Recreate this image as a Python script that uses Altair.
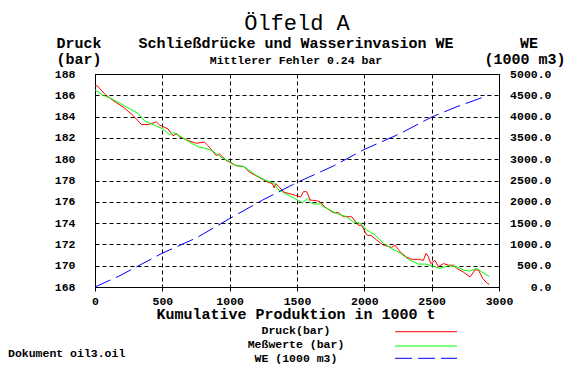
import altair as alt
import pandas as pd

# ---- data ----
druck_x = [0, 17, 74, 135, 209, 283, 345, 394, 456, 480, 542, 579, 608, 628, 690, 751, 813, 837,
           899, 924, 973, 1047, 1108, 1145, 1232, 1281, 1318, 1330, 1342, 1367, 1404, 1490, 1527,
           1547, 1572, 1597, 1646, 1671, 1708, 1770, 1807, 1844, 1906, 1955, 1980, 2017, 2054,
           2092, 2141, 2203, 2228, 2265, 2314, 2351, 2401, 2438, 2458, 2475, 2493, 2525, 2549,
           2587, 2624, 2661, 2686, 2735, 2785, 2822, 2847, 2879, 2908, 2928]
druck_p = [186.9, 186.9, 186.1, 185.5, 184.9, 184.1, 183.25, 183.25, 183.5, 183.2, 182.85, 182.2,
           182.4, 182.1, 181.75, 181.5, 181.6, 181.3, 180.35, 180.5, 179.9, 179.4, 179.3, 178.8,
           178.2, 177.85, 177.7, 177.3, 177.7, 177.4, 176.9, 176.6, 176.45, 176.95, 176.95,
           176.17, 176.1, 176.0, 175.5, 174.98, 174.98, 174.6, 174.6, 173.8, 173.8, 172.9, 172.8,
           172.4, 171.94, 171.72, 171.94, 171.3, 170.8, 170.6, 170.6, 170.5, 171.16, 170.85,
           170.2, 170.5, 169.9, 170.2, 170.05, 170.05, 169.75, 169.4, 168.95, 169.6, 169.6,
           168.8, 168.4, 168.25]

mess_x = [0, 62, 135, 234, 320, 369, 431, 505, 554, 579, 628, 702, 776, 813, 850, 874, 948, 998,
          1047, 1108, 1194, 1268, 1330, 1355, 1416, 1515, 1539, 1576, 1613, 1675, 1700, 1720,
          1795, 1869, 1918, 1968, 2017, 2079, 2141, 2203, 2265, 2327, 2401, 2451, 2500, 2562,
          2624, 2686, 2735, 2785, 2834, 2884, 2928]
mess_p = [186.5, 186.0, 185.6, 184.9, 184.3, 183.6, 183.25, 182.85, 182.3, 182.5, 182.2, 181.6,
          181.1, 181.05, 180.9, 180.75, 180.1, 179.8, 179.4, 179.3, 178.5, 178.0, 177.75, 177.2,
          176.75, 176.1, 175.9, 176.3, 175.8, 175.8, 175.5, 175.4, 174.9, 174.6, 174.1, 174.0,
          173.35, 172.9, 172.1, 171.6, 171.2, 170.6, 170.15, 170.15, 170.0, 169.75, 170.0,
          169.9, 169.6, 169.5, 169.75, 169.3, 169.0]

we_x = [0, 185, 497, 751, 1002, 1244, 1495, 1700, 1770, 2000, 2265, 2500, 2686, 2921]
we_v = [0, 266, 790, 1150, 1610, 2040, 2445, 2740, 2840, 3230, 3600, 3990, 4230, 4500]

x_ticks = [0, 500, 1000, 1500, 2000, 2500, 3000]
p_ticks = list(range(168, 189, 2))
we_ticks = list(range(0, 5001, 500))

FONT = "Liberation Mono"

df_druck = pd.DataFrame({"x": druck_x, "p": druck_p})
df_mess = pd.DataFrame({"x": mess_x, "p": mess_p})
df_we = pd.DataFrame({"x": we_x, "we": we_v})

x_enc = alt.X("x:Q", scale=alt.Scale(domain=[0, 3000], nice=False, zero=False),
              axis=alt.Axis(values=x_ticks, format="d", title=None, grid=True,
                            gridDash=[4, 3], gridColor="black", gridOpacity=1,
                            domainColor="black", tickColor="black", tickSize=4,
                            labelFont=FONT, labelFontWeight="bold", labelFontSize=11.5,
                            labelColor="black", labelPadding=4, labelFlush=False))

p_axis = alt.Axis(values=p_ticks, format="d", title=None, grid=True, gridDash=[4, 3],
                  gridColor="black", gridOpacity=1, domainColor="black", ticks=False,
                  tickSize=0, labelFont=FONT, labelFontWeight="bold", labelFontSize=11.5,
                  labelColor="black", labelPadding=20, labelAlign="right",
                  labelBaseline="middle", labelFlush=False)
p_scale = alt.Scale(domain=[168, 188], nice=False, zero=False)

red = alt.Chart(df_druck).mark_line(color="#ff0000", strokeWidth=1).encode(
    x=x_enc, y=alt.Y("p:Q", scale=p_scale, axis=p_axis))
green = alt.Chart(df_mess).mark_line(color="#00ff00", strokeWidth=1).encode(
    x=x_enc, y=alt.Y("p:Q", scale=p_scale, axis=p_axis))

blue = alt.Chart(df_we).mark_line(color="#0000ff", strokeWidth=1, strokeDash=[17, 6]).encode(
    x=x_enc,
    y=alt.Y("we:Q", scale=alt.Scale(domain=[0, 5000], nice=False, zero=True),
            axis=alt.Axis(orient="right", values=we_ticks, format=".1f", title=None,
                          grid=False, ticks=False, tickSize=0, domainColor="black",
                          labelFont=FONT, labelFontWeight="bold", labelFontSize=11.5,
                          labelColor="black", labelPadding=52, labelAlign="right",
                          labelBaseline="middle", labelFlush=False)))

one = pd.DataFrame({"a": [0]})


def txt(s, x, y, size, bold=True, align="center"):
    return alt.Chart(one).mark_text(
        font=FONT, fontSize=size, fontWeight="bold" if bold else "normal",
        align=align, baseline="alphabetic", color="black").encode(
        x=alt.value(x), y=alt.value(y), text=alt.value(s))


def rule(x1, x2, y, color, dash=None):
    kw = {"color": color, "strokeWidth": 1}
    if dash:
        kw["strokeDash"] = dash
    return alt.Chart(one).mark_rule(**kw).encode(
        x=alt.value(x1), x2=alt.value(x2), y=alt.value(y))


texts = [
    txt("Ölfeld A", 202, -44.5, 22, bold=False),
    txt("Schließdrücke und Wasserinvasion WE", 201, -26, 15),
    txt("Mittlerer Fehler 0.24 bar", 201, -10.5, 11.5),
    txt("Druck", -16, -26, 15),
    txt("(bar)", -16, -10.5, 15),
    txt("WE", 434, -26, 15),
    txt("(1000 m3)", 430, -10.5, 15),
    txt("Kumulative Produktion in 1000 t", 201, 245, 15),
    txt("Druck(bar)", 201, 260, 11.5),
    txt("Meßwerte (bar)", 201, 274.3, 11.5),
    txt("WE (1000 m3)", 201, 287.7, 11.5),
    txt("Dokument oil3.oil", -87, 282.7, 11.5, align="left"),
    rule(300, 362, 257.7, "#ff0000"),
    rule(300, 362, 272, "#00ff00"),
    rule(300, 362, 284.3, "#0000ff", [17, 6]),
]

chart = alt.layer(alt.layer(red, green), blue, *texts).resolve_scale(y="independent").properties(
    width=404, height=213,
    autosize=alt.AutoSizeParams(type="none"),
    padding={"left": 87, "top": 66, "right": 70, "bottom": 80},
    background="white",
).configure_view(stroke="black", strokeWidth=1)

chart.save("out.html", embed_options={"renderer": "svg", "actions": False})
